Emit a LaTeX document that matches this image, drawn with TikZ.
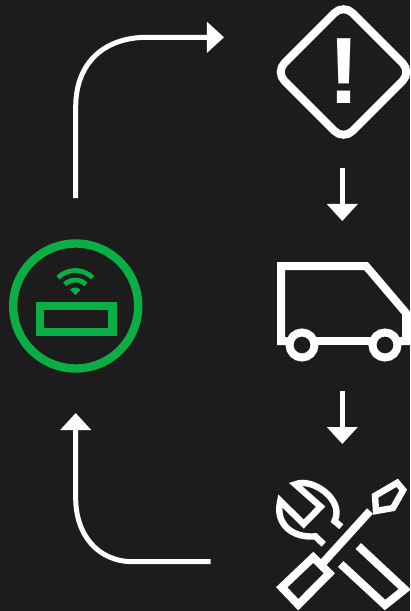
\documentclass[tikz,border=0pt]{standalone}
\usepackage{xcolor}
\usepackage{fontspec}
\setmainfont{Liberation Sans}
\usetikzlibrary{arrows.meta,calc}
\definecolor{darkBack}{HTML}{1C1C1C}
\definecolor{hubGreen}{HTML}{0AAE45}
\tikzset{
  flow/.style={-{Triangle[length=4.25mm,width=7.5mm]}, draw=white, line width=1.25mm},
  iconLine/.style={draw=white, line width=2mm, miter limit=10},
  tipLine/.style={draw=white, line width=1.6mm, miter limit=10},
  hubLine/.style={draw=hubGreen, line width=2.1mm},
  wifiLine/.style={draw=hubGreen, line width=1.2mm}
}
\begin{document}
\begin{tikzpicture}[x=0.025cm,y=-0.025cm]
\fill[darkBack] (0,0) rectangle (410,611);
\useasboundingbox (0,0) rectangle (410,611);
\clip (0,0) rectangle (410,611);

% --------------------------------------------------------------------------
% Connectors
% --------------------------------------------------------------------------
\coordinate (hubOut) at (75.7,198);
\coordinate (alertIn) at (224,37.3);
\coordinate (alertOut) at (342.3,168);
\coordinate (vanIn) at (342.3,221);
\coordinate (vanOut) at (342.3,391);
\coordinate (toolsIn) at (342.3,444);
\coordinate (toolsOut) at (210.5,561.7);
\coordinate (hubIn) at (75.7,413);

\draw[flow] (hubOut) -- (75.7,107) .. controls (75.7,62) and (105,37.3) .. (147,37.3) -- (alertIn);
\draw[flow] (alertOut) -- (vanIn);
\draw[flow] (vanOut) -- (toolsIn);
\draw[flow] (toolsOut) -- (133,561.7) .. controls (98,561.7) and (75.7,535) .. (75.7,498) -- (hubIn);

% --------------------------------------------------------------------------
% Alert
% --------------------------------------------------------------------------
\draw[iconLine, rounded corners=9pt] (343.5,4) -- (411.5,72) -- (343.5,140) -- (275.5,72) -- cycle;
\node[inner sep=0pt, text=white, font=\bfseries\fontsize{67}{67}\selectfont] (alert) at (344,71.5) {!};

% --------------------------------------------------------------------------
% Van
% --------------------------------------------------------------------------
\draw[iconLine] (287,341) -- (281,341) -- (281,266) -- (366,266) -- (406,313) -- (406,341) -- (398,341);
\draw[iconLine] (314,341) -- (373,341);
\draw[iconLine] (302,345) circle (12.5);
\draw[iconLine] (385,345) circle (12.5);

% --------------------------------------------------------------------------
% Tools
% --------------------------------------------------------------------------
\draw[iconLine] (313.3,557.3) -- (329.3,573.3) -- (298.3,604.7) -- (281.7,587.3) -- cycle;
\draw[iconLine] (321,565) -- (370,511);
\draw[tipLine] (397.2,482.8) -- (403.2,490) -- (393,508) -- (376,511) -- (375,495.8) -- cycle;
\draw[iconLine] (358.3,546) -- (404.7,589.3) -- (385,605) -- (340.7,564);
\draw[tipLine] (323.7,544.3) -- (315.3,536.3) -- (312,536.5) .. controls (290,537) and (275,522) .. (280.3,501) -- (303.7,524) -- (320.7,506.7) -- (295.3,484.3) .. controls (312,477) and (345,500) .. (334.5,521) -- (341.3,526.7);

% --------------------------------------------------------------------------
% Hub
% --------------------------------------------------------------------------
\draw[hubLine] (75.7,306) circle (62.5);
\draw[hubLine] (39.8,305.7) rectangle (112.6,332);
\coordinate (wifi) at (75.3,295);
\fill[hubGreen] (wifi) -- ($(wifi)+(-135:7.5)$) arc[start angle=-135,end angle=-45,radius=7.5] -- cycle;
\draw[wifiLine] ($(wifi)+(-135:15)$) arc[start angle=-135,end angle=-45,radius=15];
\draw[wifiLine] ($(wifi)+(-135:24.5)$) arc[start angle=-135,end angle=-45,radius=24.5];

\end{tikzpicture}
\end{document}
